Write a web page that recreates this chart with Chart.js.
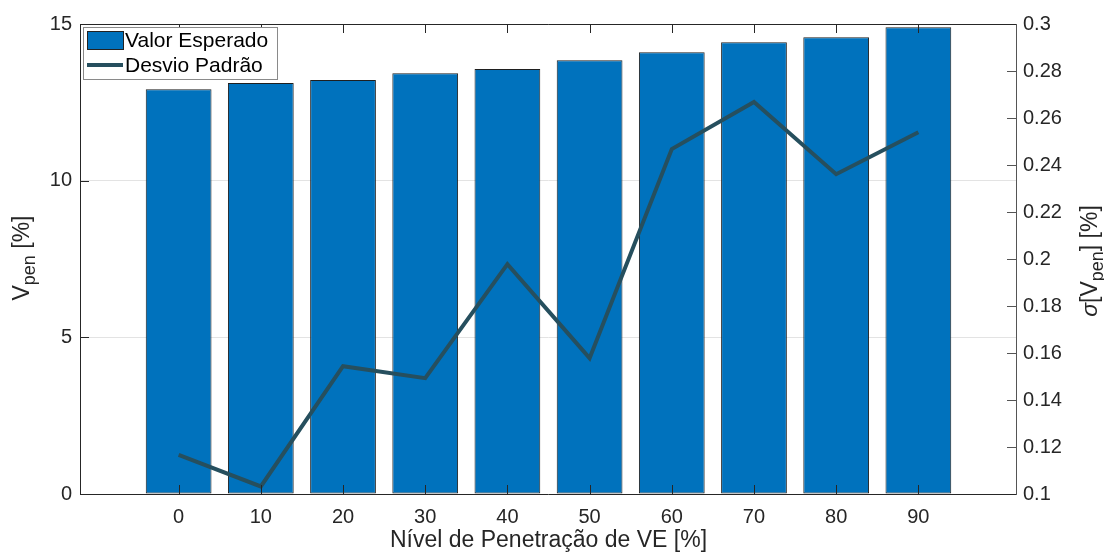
<!DOCTYPE html>
<html>
<head>
<meta charset="utf-8">
<script src="https://cdn.jsdelivr.net/npm/chart.js@4/dist/chart.umd.min.js"></script>
<style>
    html, body { margin: 0; padding: 0; background: #fff; }
    #wrap { width: 1104px; height: 554px; }
</style>
</head>
<body>
<div id="wrap"><canvas id="PenetrationCanvas" width="1104" height="554"></canvas></div>
<script>
// data
var penetrationLevels = [0, 10, 20, 30, 40, 50, 60, 70, 80, 90];
var expectedValue = [12.92, 13.12, 13.21, 13.43, 13.56, 13.84, 14.1, 14.42, 14.58, 14.9];
var stdDeviation = [0.1166, 0.1032, 0.1544, 0.1493, 0.1978, 0.1578, 0.2468, 0.2668, 0.2361, 0.2539];
var leftTicks = [0, 5, 10, 15];
var rightTicks = [0.1, 0.12, 0.14, 0.16, 0.18, 0.2, 0.22, 0.24, 0.26, 0.28, 0.3];

var fontFamily = "'Liberation Sans', Arial, Helvetica, sans-serif";
var textColor = "#262626";
var barColor = "#0072BD";
var lineColor = "#264F5E";

function drawSubText(ctx, parts, x, y, size, subSize) {
    // parts: [text, isSub, italic]
    var total = 0;
    parts.forEach(function (p) {
        ctx.font = (p[2] ? "italic " : "") + (p[1] ? subSize : size) + "px " + fontFamily;
        p.w = ctx.measureText(p[0]).width;
        total += p.w;
    });
    var cx = x - total / 2;
    parts.forEach(function (p) {
        ctx.font = (p[2] ? "italic " : "") + (p[1] ? subSize : size) + "px " + fontFamily;
        ctx.fillText(p[0], cx, y + (p[1] ? 6 : 0));
        cx += p.w;
    });
}

var matlabAxes = {
    id: "matlabAxes",
    afterDatasetsDraw: function (chart) {
        var ctx = chart.ctx;
        var a = chart.chartArea;
        var xs = chart.scales.x, yl = chart.scales.yLeft, yr = chart.scales.yRight;
        ctx.save();
        ctx.lineWidth = 1;
        ctx.strokeStyle = textColor;
        ctx.beginPath();
        penetrationLevels.forEach(function (v) {
            var px = Math.round(xs.getPixelForValue(v)) + 0.5;
            ctx.moveTo(px, a.bottom); ctx.lineTo(px, a.bottom - 9);
            ctx.moveTo(px, a.top); ctx.lineTo(px, a.top + 9);
        });
        leftTicks.forEach(function (v) {
            var py = Math.round(yl.getPixelForValue(v)) + 0.5;
            ctx.moveTo(a.left, py); ctx.lineTo(a.left + 9, py);
        });
        ctx.stroke();
        ctx.strokeStyle = "#555";
        ctx.beginPath();
        rightTicks.forEach(function (v) {
            var py = Math.round(yr.getPixelForValue(v)) + 0.5;
            ctx.moveTo(a.right, py); ctx.lineTo(a.right - 10, py);
        });
        ctx.stroke();
        ctx.restore();
    },
    afterDraw: function (chart) {
        var ctx = chart.ctx;
        var a = chart.chartArea;
        ctx.save();
        // box
        ctx.lineWidth = 1;
        ctx.strokeStyle = textColor;
        ctx.beginPath();
        ctx.moveTo(a.left + 0.5, a.bottom);
        ctx.lineTo(a.left + 0.5, a.top + 0.5);
        ctx.lineTo(a.right, a.top + 0.5);
        ctx.moveTo(a.left, a.bottom + 0.5);
        ctx.lineTo(a.right, a.bottom + 0.5);
        ctx.stroke();
        ctx.strokeStyle = "#555";
        ctx.beginPath();
        ctx.moveTo(a.right - 0.5, a.top);
        ctx.lineTo(a.right - 0.5, a.bottom + 1);
        ctx.stroke();

        // legend
        var lx = 83, ly = 27;
        ctx.fillStyle = "#fff";
        ctx.fillRect(lx, ly, 194, 52);
        ctx.strokeStyle = "#8a8a8a";
        ctx.strokeRect(lx + 0.5, ly + 0.5, 194, 52);
        ctx.fillStyle = barColor;
        ctx.fillRect(87, 31, 36, 18);
        ctx.strokeStyle = "#222";
        ctx.strokeRect(87.5, 31.5, 36, 18);
        ctx.strokeStyle = lineColor;
        ctx.lineWidth = 4;
        ctx.beginPath();
        ctx.moveTo(87, 65); ctx.lineTo(123, 65);
        ctx.stroke();
        ctx.fillStyle = "#000";
        ctx.font = "21px " + fontFamily;
        ctx.textBaseline = "middle";
        ctx.textAlign = "left";
        ctx.fillText("Valor Esperado", 125, 41);
        ctx.fillText("Desvio Padrão", 125, 66);

        // axis titles
        ctx.fillStyle = textColor;
        ctx.textBaseline = "alphabetic";
        ctx.font = "23px " + fontFamily;
        ctx.textAlign = "center";
        ctx.fillText("Nível de Penetração de VE [%]", (a.left + a.right) / 2, 547);

        ctx.textAlign = "left";
        ctx.save();
        ctx.translate(29, 258);
        ctx.rotate(-Math.PI / 2);
        drawSubText(ctx, [["V"], ["pen", true], [" [%]"]], 0, 0, 23, 18);
        ctx.restore();

        ctx.save();
        ctx.translate(1097, 261);
        ctx.rotate(-Math.PI / 2);
        drawSubText(ctx, [["σ", false, true], ["[V"], ["pen", true], ["] [%]"]], 0, 0, 23, 18);
        ctx.restore();
        ctx.restore();
    }
};

new Chart(document.getElementById("PenetrationCanvas"), {
    type: "bar",
    data: {
        datasets: [
            {
                type: "line",
                label: "Desvio Padrão",
                data: penetrationLevels.map(function (x, i) { return { x: x, y: stdDeviation[i] }; }),
                yAxisID: "yRight",
                borderColor: lineColor,
                borderWidth: 4,
                pointRadius: 0,
                tension: 0,
                fill: false,
                order: 0
            },
            {
                type: "bar",
                label: "Valor Esperado",
                data: penetrationLevels.map(function (x, i) { return { x: x, y: expectedValue[i] }; }),
                yAxisID: "yLeft",
                backgroundColor: barColor,
                borderColor: "#1f1f1f",
                borderWidth: 1,
                borderSkipped: false,
                barPercentage: 0.8,
                categoryPercentage: 1.0,
                order: 1
            }
        ]
    },
    options: {
        responsive: false,
        animation: false,
        devicePixelRatio: 1,
        layout: { padding: { top: 24, left: 0, right: 0, bottom: 0 } },
        plugins: { legend: { display: false }, tooltip: { enabled: false } },
        scales: {
            x: {
                type: "linear",
                offset: false,
                min: -12,
                max: 102,
                afterBuildTicks: function (scale) {
                    scale.ticks = penetrationLevels.map(function (v) { return { value: v }; });
                },
                afterFit: function (scale) { scale.height = 60; },
                grid: { display: false, drawTicks: false, offset: false },
                border: { display: false },
                ticks: { color: textColor, font: { family: fontFamily, size: 20 }, padding: 11, maxRotation: 0 }
            },
            yLeft: {
                position: "left",
                min: 0,
                max: 15,
                afterBuildTicks: function (scale) {
                    scale.ticks = leftTicks.map(function (v) { return { value: v }; });
                },
                afterFit: function (scale) { scale.width = 80; },
                grid: { color: "#e3e3e3", drawTicks: false },
                border: { display: false },
                ticks: { color: textColor, font: { family: fontFamily, size: 20 }, padding: 8 }
            },
            yRight: {
                position: "right",
                min: 0.1,
                max: 0.3,
                afterBuildTicks: function (scale) {
                    scale.ticks = rightTicks.map(function (v) { return { value: v }; });
                },
                afterFit: function (scale) { scale.width = 87; },
                grid: { display: false, drawTicks: false },
                border: { display: false },
                ticks: {
                    color: textColor,
                    font: { family: fontFamily, size: 20 },
                    padding: 6,
                    callback: function (v) { return String(+Number(v).toFixed(2)); }
                }
            }
        }
    },
    plugins: [matlabAxes]
});
</script>
</body>
</html>
